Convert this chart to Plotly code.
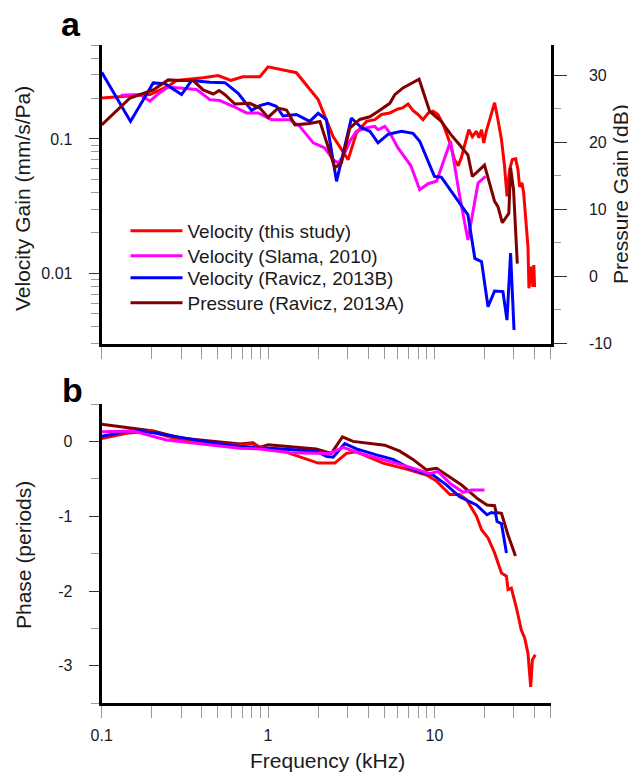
import plotly.graph_objects as go

FONT = "Arial, 'Liberation Sans', sans-serif"

# ---------------- Panel a : gain ----------------
# Velocity (this study), mm/s/Pa
vel_this_f = [0.1, 0.129, 0.195, 0.251, 0.282, 0.407, 0.501, 0.598, 0.703, 0.893, 1.0, 1.48, 2.0, 2.46,
              2.83, 3.03, 3.40, 3.91, 4.38, 4.81, 5.39, 6.04, 6.43, 6.94, 7.43, 7.97, 8.54, 9.16, 9.82,
              10.5, 11.3, 12.4, 13.2, 13.9, 14.5, 15.4, 16.1, 16.9, 17.9, 18.5, 19.2, 19.8, 20.5, 21.5,
              23.0, 24.1, 25.3, 26.4, 27.3, 28.3, 29.4, 30.8, 31.8, 32.5, 33.6, 34.4, 35.7, 36.5, 37.0,
              38.3, 39.1, 39.6, 40.0]
vel_this_g = [0.202, 0.206, 0.214, 0.247, 0.272, 0.285, 0.296, 0.272, 0.290, 0.290, 0.344, 0.311, 0.196, 0.104,
              0.0786, 0.0701, 0.111, 0.135, 0.139, 0.152, 0.156, 0.167, 0.170, 0.182, 0.163, 0.152, 0.139, 0.155, 0.161,
              0.152, 0.128, 0.0934, 0.0701, 0.0633, 0.0722, 0.096, 0.117, 0.104, 0.114, 0.102, 0.117, 0.0934, 0.114, 0.139,
              0.186, 0.139, 0.0988, 0.0625, 0.0373, 0.059, 0.0701, 0.071, 0.059, 0.0442, 0.047, 0.0395, 0.0236, 0.0158, 0.00773,
              0.0112, 0.0079, 0.0115, 0.0079]

# Velocity (Slama, 2010)
vel_slama_f = [0.130, 0.170, 0.195, 0.219, 0.251, 0.295, 0.372, 0.447, 0.513, 0.617, 0.742, 0.873, 1.0, 1.05,
               1.35, 1.55, 1.87, 2.19, 2.46, 2.64, 2.83, 3.10, 3.40, 3.91, 4.38, 4.58, 5.03, 5.39, 6.04,
               7.21, 8.16, 9.16, 10.3, 12.5, 14.2, 15.9, 18.3, 20.3]
vel_slama_g = [0.211, 0.214, 0.191, 0.217, 0.243, 0.240, 0.233, 0.196, 0.193, 0.175, 0.156, 0.156, 0.143, 0.139,
               0.139, 0.124, 0.0934, 0.0857, 0.0701, 0.0662, 0.0741, 0.096, 0.114, 0.121, 0.124, 0.117, 0.124, 0.111, 0.0857,
               0.0633, 0.0419, 0.0464, 0.0484, 0.096, 0.0373, 0.0177, 0.047, 0.0526]

# Velocity (Ravicz, 2013B)
vel_rav_f = [0.1, 0.149, 0.204, 0.240, 0.302, 0.347, 0.447, 0.551, 0.661, 0.796, 0.893, 1.0, 1.12, 1.23,
             1.48, 1.78, 2.0, 2.24, 2.58, 2.76, 3.17, 3.65, 4.09, 4.58, 5.26, 6.33, 7.43, 8.16, 10.0,
             11.0, 15.9, 17.5, 19.2, 21.0, 23.0, 25.8, 27.3, 28.7, 30.1]
vel_rav_g = [0.313, 0.135, 0.261, 0.257, 0.214, 0.272, 0.264, 0.262, 0.218, 0.163, 0.177, 0.184, 0.175, 0.148,
             0.152, 0.135, 0.155, 0.139, 0.0483, 0.0701, 0.143, 0.121, 0.114, 0.0934, 0.108, 0.114, 0.110, 0.096, 0.0526,
             0.052, 0.0272, 0.0129, 0.0122, 0.00564, 0.00738, 0.0073, 0.00448, 0.0141, 0.00378]

# Pressure (Ravicz, 2013A), dB
pres_f = [0.1, 0.148, 0.204, 0.251, 0.295, 0.355, 0.407, 0.468, 0.508, 0.551, 0.632, 0.778, 0.893, 1.0,
          1.15, 1.29, 1.45, 1.78, 2.05, 2.52, 2.76, 3.10, 3.56, 4.09, 4.58, 5.39, 5.78, 6.47, 8.09,
          9.37, 11.0, 12.6, 14.2, 15.9, 16.9, 20.0, 23.0, 24.1, 25.6, 28.0, 28.7, 29.9, 31.5]
pres_db = [22.6, 26.6, 27.8, 29.3, 29.2, 29.2, 27.8, 27.2, 27.7, 27.1, 25.7, 25.8, 25.1, 23.7,
           25.1, 24.8, 22.6, 22.8, 23.1, 16.2, 16.9, 22.1, 23.4, 23.8, 24.6, 25.8, 27.1, 28.1, 29.4,
           24.6, 23.1, 21.1, 19.6, 18.1, 14.9, 16.6, 11.2, 10.4, 8.0, 9.4, 16.2, 12.9, 1.9]

# ---------------- Panel b : phase (periods) ----------------
ph_this_f = [0.1, 0.141, 0.195, 0.295, 0.447, 0.678, 0.794, 0.893, 1.23, 1.55, 2.0, 2.52, 2.96, 3.40,
             4.91, 6.79, 8.96, 10.3, 12.4, 14.2, 15.6, 17.9, 19.2, 21.0, 23.0, 25.3, 27.1, 27.7, 29.0,
             31.0, 32.2, 33.3, 34.9, 36.5, 37.9, 38.8, 40.4]
ph_this_p = [0.04, 0.11, 0.14, 0.02, -0.02, -0.05, -0.03, -0.075, -0.13, -0.21, -0.29, -0.29, -0.16, -0.14,
             -0.29, -0.37, -0.45, -0.53, -0.71, -0.71, -0.78, -1.0, -1.18, -1.29, -1.49, -1.76, -1.80, -1.98, -1.96,
             -2.21, -2.38, -2.52, -2.63, -2.83, -3.28, -2.92, -2.85]

ph_slama_f = [0.1, 0.155, 0.245, 0.295, 0.447, 0.678, 0.893, 1.35, 2.35, 2.83, 3.56, 4.91, 6.79, 9.37,
              10.5, 12.4, 14.9, 16.7, 20.0]
ph_slama_p = [0.13, 0.14, 0.02, 0.0, -0.045, -0.09, -0.10, -0.15, -0.16, -0.08, -0.16, -0.24, -0.33, -0.43,
              -0.40, -0.56, -0.68, -0.65, -0.65]

ph_rav_f = [0.1, 0.155, 0.214, 0.324, 0.447, 0.678, 0.893, 1.03, 1.95, 2.24, 2.46, 2.89, 3.40, 4.48,
            5.64, 7.11, 8.54, 9.82, 11.8, 14.2, 17.9, 20.7, 22.0, 23.3, 23.8, 25.3, 27.1]
ph_rav_p = [0.07, 0.15, 0.11, 0.035, -0.013, -0.067, -0.09, -0.09, -0.13, -0.20, -0.21, -0.03, -0.10, -0.18,
            -0.24, -0.36, -0.42, -0.45, -0.58, -0.74, -0.85, -0.98, -0.95, -0.96, -1.07, -1.10, -1.49]

ph_pres_f = [0.1, 0.170, 0.204, 0.295, 0.447, 0.678, 0.811, 0.893, 1.0, 1.95, 2.40, 2.80, 3.24, 5.03,
             6.19, 7.43, 8.96, 10.3, 11.3, 14.5, 18.3, 20.7, 23.0, 23.5, 25.3, 27.7, 30.7]
ph_pres_p = [0.23, 0.16, 0.14, 0.045, 0.0, -0.035, -0.02, -0.08, -0.045, -0.10, -0.16, 0.06, 0.0, -0.05,
             -0.13, -0.24, -0.38, -0.36, -0.42, -0.58, -0.77, -0.85, -0.86, -0.95, -0.96, -1.25, -1.53]

# ---------------- tick values / labels ----------------
x_ticks = [0.1, 0.2, 0.3, 0.4, 0.5, 0.6, 0.7, 0.8, 0.9, 1, 2, 3, 4, 5, 6, 7, 8, 9, 10, 20, 30, 40, 50]
x_labels = ["0.1", "", "", "", "", "", "", "", "", "1", "", "", "", "", "", "", "", "", "10", "", "", "", ""]
gain_major = [0.01, 0.1]
gain_major_labels = ["0.01", "0.1"]
gain_minor = [0.003, 0.004, 0.005, 0.006, 0.007, 0.008, 0.009, 0.02, 0.03, 0.04, 0.05, 0.06, 0.07, 0.08,
              0.09, 0.2, 0.3, 0.4, 0.5]
db_major = [-10, 0, 10, 20, 30]
db_minor = [-5, 5, 15, 25]
phase_major = [-3, -2, -1, 0]
phase_minor = [-3.5, -2.5, -1.5, -0.5, 0.5]

names = ["Velocity (this study)", "Velocity (Slama, 2010)", "Velocity (Ravicz, 2013B)", "Pressure (Ravicz, 2013A)"]
colors = ["#FF0000", "#FF00FF", "#0000FF", "#800000"]
legend_ids = ["legend", "legend2", "legend3", "legend4"]

# The page body adds an 8 px offset; figure is sized to fill the rest of the window.
OFF = 8
W, H = 628, 766


def px(xp):  # page x -> paper fraction
    return (xp - OFF) / W


def py(yp):  # page y -> paper fraction
    return 1 - (yp - OFF) / H


fig = go.Figure()
gain_sets = [(vel_this_f, vel_this_g, "y"), (vel_slama_f, vel_slama_g, "y"),
             (vel_rav_f, vel_rav_g, "y"), (pres_f, pres_db, "y2")]
for (fx, fy, ya), nm, c, lg in zip(gain_sets, names, colors, legend_ids):
    fig.add_trace(go.Scatter(x=fx, y=fy, mode="lines", name=nm, xaxis="x", yaxis=ya, legend=lg,
                             line=dict(color=c, width=3)))
phase_sets = [(ph_this_f, ph_this_p), (ph_slama_f, ph_slama_p), (ph_rav_f, ph_rav_p), (ph_pres_f, ph_pres_p)]
for idx in [3, 0, 2, 1]:
    fx, fy = phase_sets[idx]
    fig.add_trace(go.Scatter(x=fx, y=fy, mode="lines", showlegend=False, xaxis="x2", yaxis="y3",
                             line=dict(color=colors[idx], width=3)))

xl, xr = px(101.7), px(550.7)
ya_top, ya_bot = py(45), py(343.5)
yb_top, yb_bot = py(404), py(703.3)

tickfont = dict(family=FONT, size=16, color="#1a1a1a")
common_x = dict(type="log", range=[-1, 1.69897], tickmode="array", tickvals=x_ticks,
                ticks="outside", ticklen=12, tickwidth=1, tickcolor="#9a9a9a", automargin=False,
                showline=True, linecolor="black", linewidth=3, showgrid=False, zeroline=False,
                tickfont=tickfont, ticklabelstandoff=3)

legend_rows = [231, 256, 278, 303]
legends = {}
for lg, ry in zip(legend_ids, legend_rows):
    legends[lg] = dict(x=px(125.5), y=py(ry), xanchor="left", yanchor="middle",
                       bgcolor="rgba(0,0,0,0)", borderwidth=0, itemwidth=52,
                       font=dict(family=FONT, size=19, color="#1a1a1a"))

fig.update_layout(
    width=W, height=H, margin=dict(l=0, r=0, t=0, b=0, pad=0, autoexpand=False),
    paper_bgcolor="white", plot_bgcolor="white",
    font=dict(family=FONT, color="#1a1a1a"),
    xaxis=dict(domain=[xl, xr], anchor="y", ticktext=[""] * len(x_ticks), **common_x),
    xaxis2=dict(domain=[xl, xr], anchor="y3", ticktext=x_labels, **common_x),
    yaxis=dict(domain=[ya_bot, ya_top], anchor="x", type="log", range=[-2.5229, -0.30103],
               tickmode="array", tickvals=gain_major, ticktext=gain_major_labels, automargin=False,
               ticks="outside", ticklen=10, tickwidth=1, tickcolor="#333333",
               minor=dict(tickvals=gain_minor, ticks="outside", ticklen=8, tickcolor="#9a9a9a", tickwidth=1, showgrid=False),
               showline=True, linecolor="black", linewidth=3, showgrid=False, zeroline=False,
               tickfont=tickfont, ticklabelstandoff=13),
    yaxis2=dict(domain=[ya_bot, ya_top], anchor="x", overlaying="y", side="right", automargin=False,
                range=[-10, 34.5], tickmode="array", tickvals=db_major, ticktext=[str(v) for v in db_major],
                ticks="outside", ticklen=13, tickwidth=1, tickcolor="#333333",
                minor=dict(tickvals=db_minor, ticks="outside", ticklen=7, tickcolor="#9a9a9a", tickwidth=1, showgrid=False),
                showline=True, linecolor="black", linewidth=3, showgrid=False, zeroline=False,
                tickfont=tickfont, ticklabelstandoff=19),
    yaxis3=dict(domain=[yb_bot, yb_top], anchor="x2", range=[-3.5, 0.5], automargin=False,
                tickmode="array", tickvals=phase_major, ticktext=[str(v) for v in phase_major],
                ticks="outside", ticklen=10, tickwidth=1, tickcolor="#333333",
                minor=dict(tickvals=phase_minor, ticks="outside", ticklen=8, tickcolor="#9a9a9a", tickwidth=1, showgrid=False),
                showline=True, linecolor="black", linewidth=3, showgrid=False, zeroline=False,
                tickfont=tickfont, ticklabelstandoff=13),
    showlegend=True,
    **legends,
)

ann = [
    dict(text="Velocity Gain (mm/s/Pa)", x=px(23), y=py(199), textangle=-90, font=dict(size=21)),
    dict(text="Pressure Gain (dB)", x=px(620), y=py(194), textangle=-90, font=dict(size=21)),
    dict(text="Phase (periods)", x=px(23), y=py(555), textangle=-90, font=dict(size=21)),
    dict(text="Frequency (kHz)", x=px(327), y=py(760), font=dict(size=21)),
    dict(text="<b>a</b>", x=px(71), y=py(24), font=dict(size=34, color="black"), height=30),
    dict(text="<b>b</b>", x=px(72), y=py(390), font=dict(size=34, color="black"), height=34),
]
for a in ann:
    f = dict(family=FONT, color="#1a1a1a")
    f.update(a.pop("font"))
    fig.add_annotation(xref="paper", yref="paper", showarrow=False, xanchor="center", yanchor="middle",
                       font=f, **a)

fig.write_html("out.html")
